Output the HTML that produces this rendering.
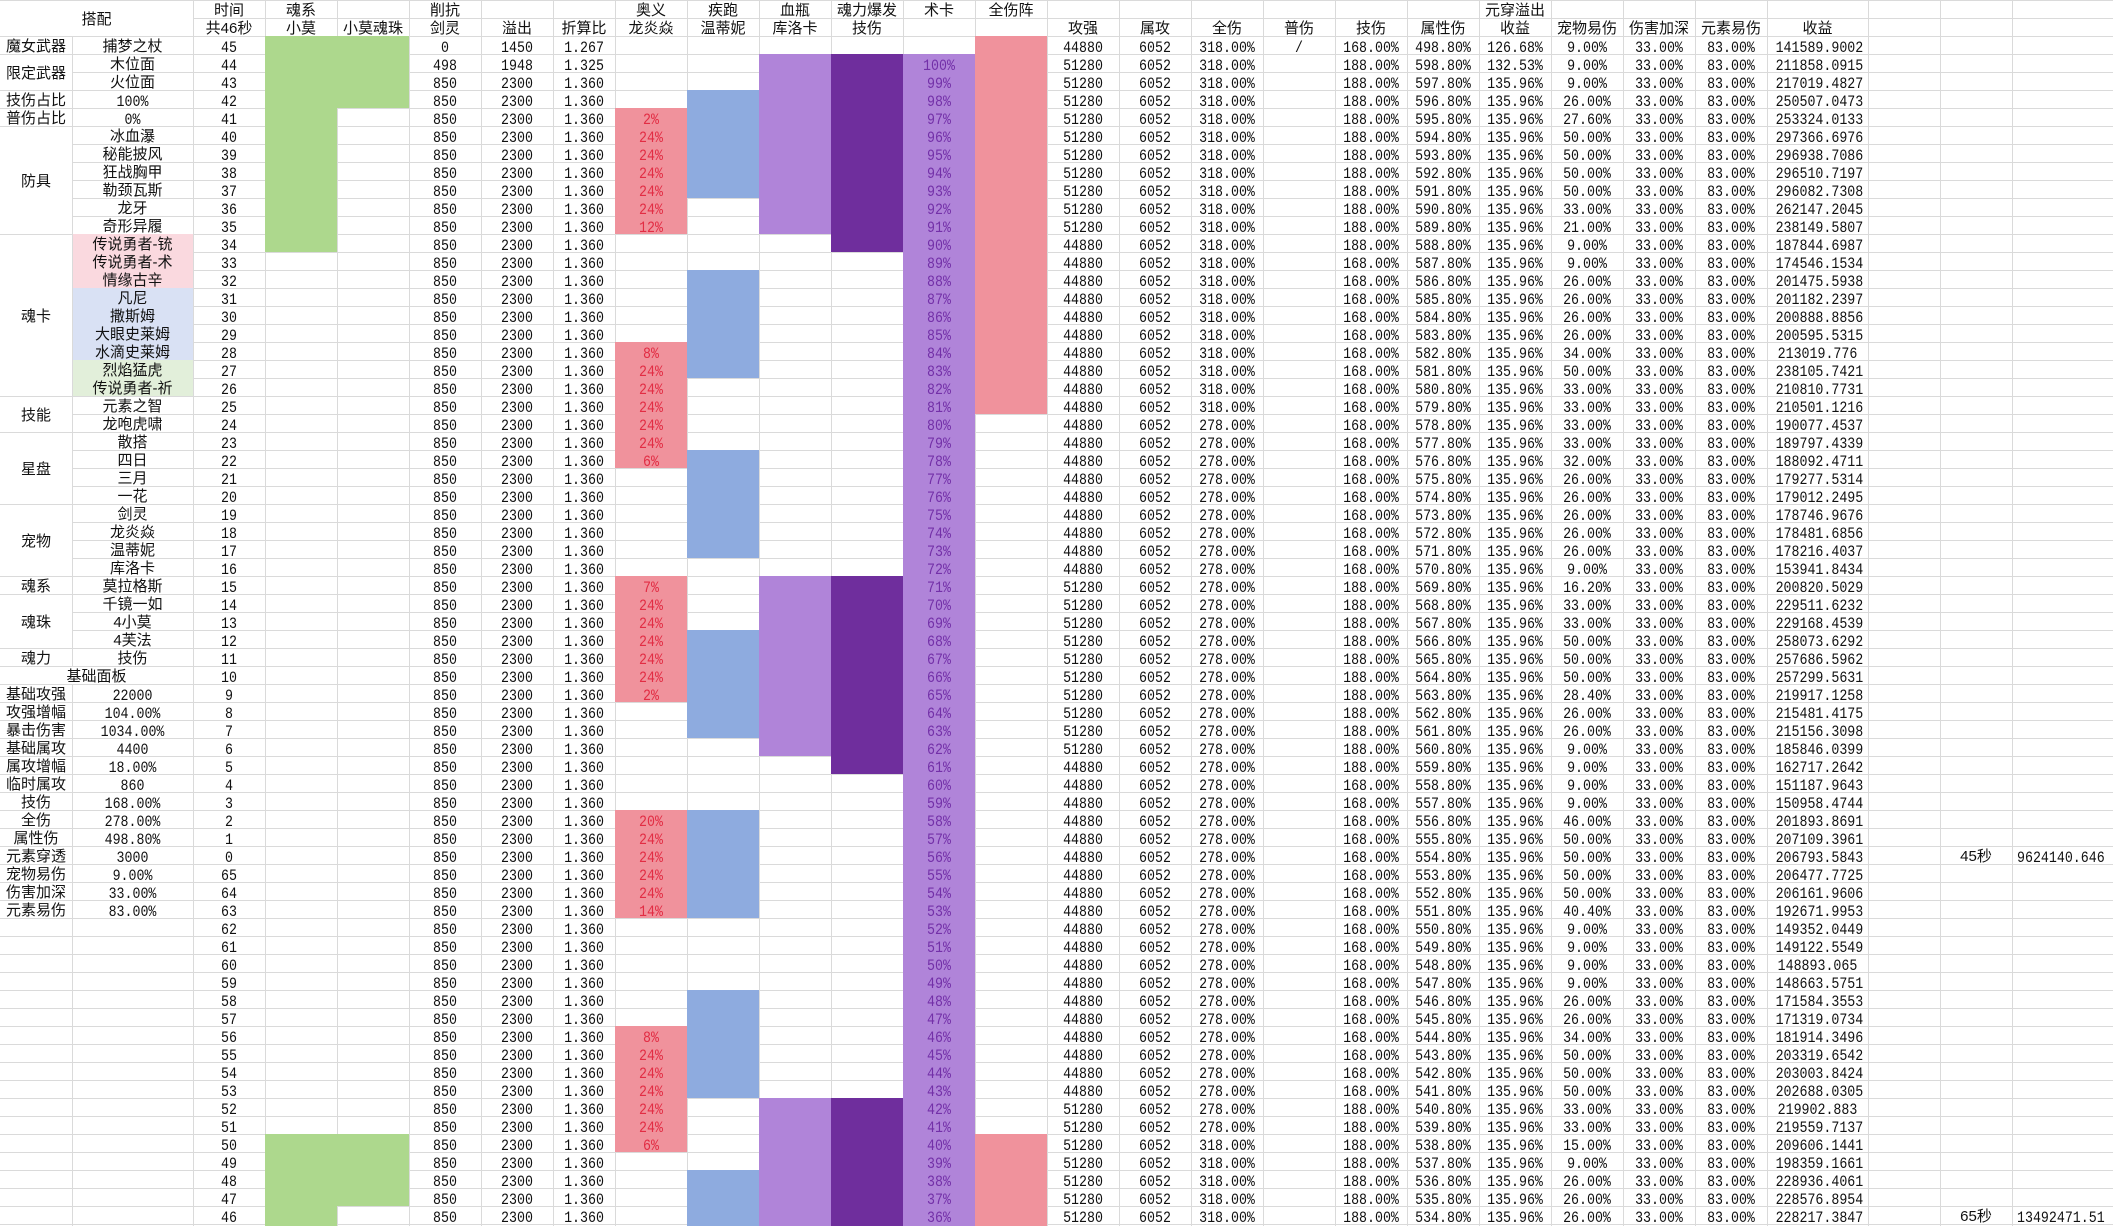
<!DOCTYPE html>
<html><head><meta charset="utf-8">
<style>
body{margin:0;width:2113px;height:1226px;overflow:hidden;background:#fff;position:relative;color:#111}
.g{position:absolute;left:0;top:0;width:2113px;height:1226px;background:repeating-linear-gradient(to bottom,#dadada 0,#dadada 1px,transparent 1px,transparent 18px)}
svg{position:absolute;left:0;top:0}
.b{position:absolute}
.gr{background:#add88d}.rd{background:#f0929c}.bl{background:#8eabdf}.lp{background:#b084d9}.dp{background:#6f2e9d}
.pk{background:#fad9df}.lb{background:#d9e1f4}.lg{background:#e2efda}.wh{background:#fff}
.r{position:absolute;left:0;width:2113px;height:18px}
.r i{position:absolute;top:3px;height:18px;font:16px/18px "Liberation Mono",monospace;text-align:center;font-style:normal;white-space:nowrap;transform:scaleX(.83)}
.r i.z{font:15px/18px "Liberation Sans","Noto Sans CJK SC",sans-serif;transform:none;top:2px}
.r i.w{left:2017px;text-align:left;transform-origin:0 50%}
.p{color:#e22d44}.q{color:#7330a8}
.c0{left:0;width:72px}.c1{left:72px;width:121px}.c2{left:193px;width:72px}.c3{left:265px;width:72px}.c4{left:337px;width:72px}
.c5{left:409px;width:72px}.c6{left:481px;width:72px}.c7{left:553px;width:62px}.c8{left:615px;width:72px}.c9{left:687px;width:72px}
.c10{left:759px;width:72px}.c11{left:831px;width:72px}.c12{left:903px;width:72px}.c13{left:975px;width:72px}.c14{left:1047px;width:72px}
.c15{left:1119px;width:72px}.c16{left:1191px;width:72px}.c17{left:1263px;width:72px}.c18{left:1335px;width:72px}.c19{left:1407px;width:72px}
.c20{left:1479px;width:72px}.c21{left:1551px;width:72px}.c22{left:1623px;width:72px}.c23{left:1695px;width:72px}.c24{left:1767px;width:101px}
.c25{left:1868px;width:72px}.c26{left:1940px;width:72px}.c27{left:2012px;width:101px}
</style></head><body>
<div class="g"></div>
<svg width="2113" height="1226"><path d="M72.5 0V1226M193.5 0V1226M265.5 0V1226M337.5 0V1226M409.5 0V1226M481.5 0V1226M553.5 0V1226M615.5 0V1226M687.5 0V1226M759.5 0V1226M831.5 0V1226M903.5 0V1226M975.5 0V1226M1047.5 0V1226M1119.5 0V1226M1191.5 0V1226M1263.5 0V1226M1335.5 0V1226M1407.5 0V1226M1479.5 0V1226M1551.5 0V1226M1623.5 0V1226M1695.5 0V1226M1767.5 0V1226M1868.5 0V1226M1940.5 0V1226M2012.5 0V1226" stroke="#dadada" stroke-width="1" fill="none"/></svg>

<!-- merged white cells -->
<div class="b wh" style="left:0;top:1px;width:193px;height:35px"></div>
<div class="b wh" style="left:0;top:55px;width:72px;height:35px"></div>
<div class="b wh" style="left:0;top:127px;width:72px;height:107px"></div>
<div class="b wh" style="left:0;top:235px;width:72px;height:161px"></div>
<div class="b wh" style="left:0;top:397px;width:72px;height:35px"></div>
<div class="b wh" style="left:0;top:433px;width:72px;height:71px"></div>
<div class="b wh" style="left:0;top:505px;width:72px;height:71px"></div>
<div class="b wh" style="left:0;top:595px;width:72px;height:53px"></div>
<div class="b wh" style="left:0;top:667px;width:193px;height:17px"></div>

<!-- colored blocks -->
<div class="b pk" style="left:73px;top:234px;width:120px;height:54px"></div>
<div class="b lb" style="left:73px;top:288px;width:120px;height:72px"></div>
<div class="b lg" style="left:73px;top:360px;width:120px;height:36px"></div>

<div class="b gr" style="left:265px;top:36px;width:72px;height:216px"></div>
<div class="b gr" style="left:265px;top:1134px;width:72px;height:92px"></div>
<div class="b gr" style="left:337px;top:36px;width:72px;height:72px"></div>
<div class="b gr" style="left:337px;top:1134px;width:72px;height:72px"></div>

<div class="b rd" style="left:615px;top:108px;width:72px;height:126px"></div>
<div class="b rd" style="left:615px;top:342px;width:72px;height:126px"></div>
<div class="b rd" style="left:615px;top:576px;width:72px;height:126px"></div>
<div class="b rd" style="left:615px;top:810px;width:72px;height:108px"></div>
<div class="b rd" style="left:615px;top:1026px;width:72px;height:126px"></div>

<div class="b bl" style="left:687px;top:90px;width:72px;height:108px"></div>
<div class="b bl" style="left:687px;top:270px;width:72px;height:108px"></div>
<div class="b bl" style="left:687px;top:450px;width:72px;height:108px"></div>
<div class="b bl" style="left:687px;top:630px;width:72px;height:108px"></div>
<div class="b bl" style="left:687px;top:810px;width:72px;height:108px"></div>
<div class="b bl" style="left:687px;top:990px;width:72px;height:108px"></div>
<div class="b bl" style="left:687px;top:1170px;width:72px;height:56px"></div>

<div class="b lp" style="left:759px;top:54px;width:72px;height:180px"></div>
<div class="b lp" style="left:759px;top:576px;width:72px;height:180px"></div>
<div class="b lp" style="left:759px;top:1098px;width:72px;height:128px"></div>

<div class="b dp" style="left:831px;top:54px;width:72px;height:198px"></div>
<div class="b dp" style="left:831px;top:576px;width:72px;height:198px"></div>
<div class="b dp" style="left:831px;top:1098px;width:72px;height:128px"></div>

<div class="b lp" style="left:903px;top:54px;width:72px;height:1172px"></div>

<div class="b rd" style="left:975px;top:36px;width:72px;height:378px"></div>
<div class="b rd" style="left:975px;top:1134px;width:72px;height:92px"></div>

<!-- header -->
<div class="r" style="top:0">
<i class="z" style="left:0;width:193px;top:11px">搭配</i>
<i class="c2 z">时间</i><i class="c3 z">魂系</i><i class="c5 z">削抗</i><i class="c8 z">奥义</i><i class="c9 z">疾跑</i><i class="c10 z">血瓶</i><i class="c11 z">魂力爆发</i><i class="c12 z">术卡</i><i class="c13 z">全伤阵</i><i class="c20 z">元穿溢出</i>
</div>
<div class="r" style="top:18px">
<i class="c2 z">共46秒</i><i class="c3 z">小莫</i><i class="c4 z">小莫魂珠</i><i class="c5 z">剑灵</i><i class="c6 z">溢出</i><i class="c7 z">折算比</i><i class="c8 z">龙炎焱</i><i class="c9 z">温蒂妮</i><i class="c10 z">库洛卡</i><i class="c11 z">技伤</i><i class="c14 z">攻强</i><i class="c15 z">属攻</i><i class="c16 z">全伤</i><i class="c17 z">普伤</i><i class="c18 z">技伤</i><i class="c19 z">属性伤</i><i class="c20 z">收益</i><i class="c21 z">宠物易伤</i><i class="c22 z">伤害加深</i><i class="c23 z">元素易伤</i><i class="c24 z">收益</i>
</div>

<!-- merged labels -->
<div class="r" style="top:0">
<i class="c0 z" style="top:65px">限定武器</i>
<i class="c0 z" style="top:173px">防具</i>
<i class="c0 z" style="top:308px">魂卡</i>
<i class="c0 z" style="top:407px">技能</i>
<i class="c0 z" style="top:461px">星盘</i>
<i class="c0 z" style="top:533px">宠物</i>
<i class="c0 z" style="top:614px">魂珠</i>
<i class="z" style="left:0;width:193px;top:668px">基础面板</i>
</div>

<!-- data rows -->
<div class="r" style="top:36px"><i class="c0 z">魔女武器</i><i class="c1 z">捕梦之杖</i><i class="c2">45</i><i class="c5">0</i><i class="c6">1450</i><i class="c7">1.267</i><i class="c14">44880</i><i class="c15">6052</i><i class="c16">318.00%</i><i class="c17">/</i><i class="c18">168.00%</i><i class="c19">498.80%</i><i class="c20">126.68%</i><i class="c21">9.00%</i><i class="c22">33.00%</i><i class="c23">83.00%</i><i class="c24">141589.9002</i></div>
<div class="r" style="top:54px"><i class="c1 z">木位面</i><i class="c2">44</i><i class="c5">498</i><i class="c6">1948</i><i class="c7">1.325</i><i class="c12 q">100%</i><i class="c14">51280</i><i class="c15">6052</i><i class="c16">318.00%</i><i class="c18">188.00%</i><i class="c19">598.80%</i><i class="c20">132.53%</i><i class="c21">9.00%</i><i class="c22">33.00%</i><i class="c23">83.00%</i><i class="c24">211858.0915</i></div>
<div class="r" style="top:72px"><i class="c1 z">火位面</i><i class="c2">43</i><i class="c5">850</i><i class="c6">2300</i><i class="c7">1.360</i><i class="c12 q">99%</i><i class="c14">51280</i><i class="c15">6052</i><i class="c16">318.00%</i><i class="c18">188.00%</i><i class="c19">597.80%</i><i class="c20">135.96%</i><i class="c21">9.00%</i><i class="c22">33.00%</i><i class="c23">83.00%</i><i class="c24">217019.4827</i></div>
<div class="r" style="top:90px"><i class="c0 z">技伤占比</i><i class="c1">100%</i><i class="c2">42</i><i class="c5">850</i><i class="c6">2300</i><i class="c7">1.360</i><i class="c12 q">98%</i><i class="c14">51280</i><i class="c15">6052</i><i class="c16">318.00%</i><i class="c18">188.00%</i><i class="c19">596.80%</i><i class="c20">135.96%</i><i class="c21">26.00%</i><i class="c22">33.00%</i><i class="c23">83.00%</i><i class="c24">250507.0473</i></div>
<div class="r" style="top:108px"><i class="c0 z">普伤占比</i><i class="c1">0%</i><i class="c2">41</i><i class="c5">850</i><i class="c6">2300</i><i class="c7">1.360</i><i class="c8 p">2%</i><i class="c12 q">97%</i><i class="c14">51280</i><i class="c15">6052</i><i class="c16">318.00%</i><i class="c18">188.00%</i><i class="c19">595.80%</i><i class="c20">135.96%</i><i class="c21">27.60%</i><i class="c22">33.00%</i><i class="c23">83.00%</i><i class="c24">253324.0133</i></div>
<div class="r" style="top:126px"><i class="c1 z">冰血瀑</i><i class="c2">40</i><i class="c5">850</i><i class="c6">2300</i><i class="c7">1.360</i><i class="c8 p">24%</i><i class="c12 q">96%</i><i class="c14">51280</i><i class="c15">6052</i><i class="c16">318.00%</i><i class="c18">188.00%</i><i class="c19">594.80%</i><i class="c20">135.96%</i><i class="c21">50.00%</i><i class="c22">33.00%</i><i class="c23">83.00%</i><i class="c24">297366.6976</i></div>
<div class="r" style="top:144px"><i class="c1 z">秘能披风</i><i class="c2">39</i><i class="c5">850</i><i class="c6">2300</i><i class="c7">1.360</i><i class="c8 p">24%</i><i class="c12 q">95%</i><i class="c14">51280</i><i class="c15">6052</i><i class="c16">318.00%</i><i class="c18">188.00%</i><i class="c19">593.80%</i><i class="c20">135.96%</i><i class="c21">50.00%</i><i class="c22">33.00%</i><i class="c23">83.00%</i><i class="c24">296938.7086</i></div>
<div class="r" style="top:162px"><i class="c1 z">狂战胸甲</i><i class="c2">38</i><i class="c5">850</i><i class="c6">2300</i><i class="c7">1.360</i><i class="c8 p">24%</i><i class="c12 q">94%</i><i class="c14">51280</i><i class="c15">6052</i><i class="c16">318.00%</i><i class="c18">188.00%</i><i class="c19">592.80%</i><i class="c20">135.96%</i><i class="c21">50.00%</i><i class="c22">33.00%</i><i class="c23">83.00%</i><i class="c24">296510.7197</i></div>
<div class="r" style="top:180px"><i class="c1 z">勒颈瓦斯</i><i class="c2">37</i><i class="c5">850</i><i class="c6">2300</i><i class="c7">1.360</i><i class="c8 p">24%</i><i class="c12 q">93%</i><i class="c14">51280</i><i class="c15">6052</i><i class="c16">318.00%</i><i class="c18">188.00%</i><i class="c19">591.80%</i><i class="c20">135.96%</i><i class="c21">50.00%</i><i class="c22">33.00%</i><i class="c23">83.00%</i><i class="c24">296082.7308</i></div>
<div class="r" style="top:198px"><i class="c1 z">龙牙</i><i class="c2">36</i><i class="c5">850</i><i class="c6">2300</i><i class="c7">1.360</i><i class="c8 p">24%</i><i class="c12 q">92%</i><i class="c14">51280</i><i class="c15">6052</i><i class="c16">318.00%</i><i class="c18">188.00%</i><i class="c19">590.80%</i><i class="c20">135.96%</i><i class="c21">33.00%</i><i class="c22">33.00%</i><i class="c23">83.00%</i><i class="c24">262147.2045</i></div>
<div class="r" style="top:216px"><i class="c1 z">奇形异履</i><i class="c2">35</i><i class="c5">850</i><i class="c6">2300</i><i class="c7">1.360</i><i class="c8 p">12%</i><i class="c12 q">91%</i><i class="c14">51280</i><i class="c15">6052</i><i class="c16">318.00%</i><i class="c18">188.00%</i><i class="c19">589.80%</i><i class="c20">135.96%</i><i class="c21">21.00%</i><i class="c22">33.00%</i><i class="c23">83.00%</i><i class="c24">238149.5807</i></div>
<div class="r" style="top:234px"><i class="c1 z">传说勇者-铳</i><i class="c2">34</i><i class="c5">850</i><i class="c6">2300</i><i class="c7">1.360</i><i class="c12 q">90%</i><i class="c14">44880</i><i class="c15">6052</i><i class="c16">318.00%</i><i class="c18">188.00%</i><i class="c19">588.80%</i><i class="c20">135.96%</i><i class="c21">9.00%</i><i class="c22">33.00%</i><i class="c23">83.00%</i><i class="c24">187844.6987</i></div>
<div class="r" style="top:252px"><i class="c1 z">传说勇者-术</i><i class="c2">33</i><i class="c5">850</i><i class="c6">2300</i><i class="c7">1.360</i><i class="c12 q">89%</i><i class="c14">44880</i><i class="c15">6052</i><i class="c16">318.00%</i><i class="c18">168.00%</i><i class="c19">587.80%</i><i class="c20">135.96%</i><i class="c21">9.00%</i><i class="c22">33.00%</i><i class="c23">83.00%</i><i class="c24">174546.1534</i></div>
<div class="r" style="top:270px"><i class="c1 z">情缘古辛</i><i class="c2">32</i><i class="c5">850</i><i class="c6">2300</i><i class="c7">1.360</i><i class="c12 q">88%</i><i class="c14">44880</i><i class="c15">6052</i><i class="c16">318.00%</i><i class="c18">168.00%</i><i class="c19">586.80%</i><i class="c20">135.96%</i><i class="c21">26.00%</i><i class="c22">33.00%</i><i class="c23">83.00%</i><i class="c24">201475.5938</i></div>
<div class="r" style="top:288px"><i class="c1 z">凡尼</i><i class="c2">31</i><i class="c5">850</i><i class="c6">2300</i><i class="c7">1.360</i><i class="c12 q">87%</i><i class="c14">44880</i><i class="c15">6052</i><i class="c16">318.00%</i><i class="c18">168.00%</i><i class="c19">585.80%</i><i class="c20">135.96%</i><i class="c21">26.00%</i><i class="c22">33.00%</i><i class="c23">83.00%</i><i class="c24">201182.2397</i></div>
<div class="r" style="top:306px"><i class="c1 z">撒斯姆</i><i class="c2">30</i><i class="c5">850</i><i class="c6">2300</i><i class="c7">1.360</i><i class="c12 q">86%</i><i class="c14">44880</i><i class="c15">6052</i><i class="c16">318.00%</i><i class="c18">168.00%</i><i class="c19">584.80%</i><i class="c20">135.96%</i><i class="c21">26.00%</i><i class="c22">33.00%</i><i class="c23">83.00%</i><i class="c24">200888.8856</i></div>
<div class="r" style="top:324px"><i class="c1 z">大眼史莱姆</i><i class="c2">29</i><i class="c5">850</i><i class="c6">2300</i><i class="c7">1.360</i><i class="c12 q">85%</i><i class="c14">44880</i><i class="c15">6052</i><i class="c16">318.00%</i><i class="c18">168.00%</i><i class="c19">583.80%</i><i class="c20">135.96%</i><i class="c21">26.00%</i><i class="c22">33.00%</i><i class="c23">83.00%</i><i class="c24">200595.5315</i></div>
<div class="r" style="top:342px"><i class="c1 z">水滴史莱姆</i><i class="c2">28</i><i class="c5">850</i><i class="c6">2300</i><i class="c7">1.360</i><i class="c8 p">8%</i><i class="c12 q">84%</i><i class="c14">44880</i><i class="c15">6052</i><i class="c16">318.00%</i><i class="c18">168.00%</i><i class="c19">582.80%</i><i class="c20">135.96%</i><i class="c21">34.00%</i><i class="c22">33.00%</i><i class="c23">83.00%</i><i class="c24">213019.776</i></div>
<div class="r" style="top:360px"><i class="c1 z">烈焰猛虎</i><i class="c2">27</i><i class="c5">850</i><i class="c6">2300</i><i class="c7">1.360</i><i class="c8 p">24%</i><i class="c12 q">83%</i><i class="c14">44880</i><i class="c15">6052</i><i class="c16">318.00%</i><i class="c18">168.00%</i><i class="c19">581.80%</i><i class="c20">135.96%</i><i class="c21">50.00%</i><i class="c22">33.00%</i><i class="c23">83.00%</i><i class="c24">238105.7421</i></div>
<div class="r" style="top:378px"><i class="c1 z">传说勇者-祈</i><i class="c2">26</i><i class="c5">850</i><i class="c6">2300</i><i class="c7">1.360</i><i class="c8 p">24%</i><i class="c12 q">82%</i><i class="c14">44880</i><i class="c15">6052</i><i class="c16">318.00%</i><i class="c18">168.00%</i><i class="c19">580.80%</i><i class="c20">135.96%</i><i class="c21">33.00%</i><i class="c22">33.00%</i><i class="c23">83.00%</i><i class="c24">210810.7731</i></div>
<div class="r" style="top:396px"><i class="c1 z">元素之智</i><i class="c2">25</i><i class="c5">850</i><i class="c6">2300</i><i class="c7">1.360</i><i class="c8 p">24%</i><i class="c12 q">81%</i><i class="c14">44880</i><i class="c15">6052</i><i class="c16">318.00%</i><i class="c18">168.00%</i><i class="c19">579.80%</i><i class="c20">135.96%</i><i class="c21">33.00%</i><i class="c22">33.00%</i><i class="c23">83.00%</i><i class="c24">210501.1216</i></div>
<div class="r" style="top:414px"><i class="c1 z">龙咆虎啸</i><i class="c2">24</i><i class="c5">850</i><i class="c6">2300</i><i class="c7">1.360</i><i class="c8 p">24%</i><i class="c12 q">80%</i><i class="c14">44880</i><i class="c15">6052</i><i class="c16">278.00%</i><i class="c18">168.00%</i><i class="c19">578.80%</i><i class="c20">135.96%</i><i class="c21">33.00%</i><i class="c22">33.00%</i><i class="c23">83.00%</i><i class="c24">190077.4537</i></div>
<div class="r" style="top:432px"><i class="c1 z">散搭</i><i class="c2">23</i><i class="c5">850</i><i class="c6">2300</i><i class="c7">1.360</i><i class="c8 p">24%</i><i class="c12 q">79%</i><i class="c14">44880</i><i class="c15">6052</i><i class="c16">278.00%</i><i class="c18">168.00%</i><i class="c19">577.80%</i><i class="c20">135.96%</i><i class="c21">33.00%</i><i class="c22">33.00%</i><i class="c23">83.00%</i><i class="c24">189797.4339</i></div>
<div class="r" style="top:450px"><i class="c1 z">四日</i><i class="c2">22</i><i class="c5">850</i><i class="c6">2300</i><i class="c7">1.360</i><i class="c8 p">6%</i><i class="c12 q">78%</i><i class="c14">44880</i><i class="c15">6052</i><i class="c16">278.00%</i><i class="c18">168.00%</i><i class="c19">576.80%</i><i class="c20">135.96%</i><i class="c21">32.00%</i><i class="c22">33.00%</i><i class="c23">83.00%</i><i class="c24">188092.4711</i></div>
<div class="r" style="top:468px"><i class="c1 z">三月</i><i class="c2">21</i><i class="c5">850</i><i class="c6">2300</i><i class="c7">1.360</i><i class="c12 q">77%</i><i class="c14">44880</i><i class="c15">6052</i><i class="c16">278.00%</i><i class="c18">168.00%</i><i class="c19">575.80%</i><i class="c20">135.96%</i><i class="c21">26.00%</i><i class="c22">33.00%</i><i class="c23">83.00%</i><i class="c24">179277.5314</i></div>
<div class="r" style="top:486px"><i class="c1 z">一花</i><i class="c2">20</i><i class="c5">850</i><i class="c6">2300</i><i class="c7">1.360</i><i class="c12 q">76%</i><i class="c14">44880</i><i class="c15">6052</i><i class="c16">278.00%</i><i class="c18">168.00%</i><i class="c19">574.80%</i><i class="c20">135.96%</i><i class="c21">26.00%</i><i class="c22">33.00%</i><i class="c23">83.00%</i><i class="c24">179012.2495</i></div>
<div class="r" style="top:504px"><i class="c1 z">剑灵</i><i class="c2">19</i><i class="c5">850</i><i class="c6">2300</i><i class="c7">1.360</i><i class="c12 q">75%</i><i class="c14">44880</i><i class="c15">6052</i><i class="c16">278.00%</i><i class="c18">168.00%</i><i class="c19">573.80%</i><i class="c20">135.96%</i><i class="c21">26.00%</i><i class="c22">33.00%</i><i class="c23">83.00%</i><i class="c24">178746.9676</i></div>
<div class="r" style="top:522px"><i class="c1 z">龙炎焱</i><i class="c2">18</i><i class="c5">850</i><i class="c6">2300</i><i class="c7">1.360</i><i class="c12 q">74%</i><i class="c14">44880</i><i class="c15">6052</i><i class="c16">278.00%</i><i class="c18">168.00%</i><i class="c19">572.80%</i><i class="c20">135.96%</i><i class="c21">26.00%</i><i class="c22">33.00%</i><i class="c23">83.00%</i><i class="c24">178481.6856</i></div>
<div class="r" style="top:540px"><i class="c1 z">温蒂妮</i><i class="c2">17</i><i class="c5">850</i><i class="c6">2300</i><i class="c7">1.360</i><i class="c12 q">73%</i><i class="c14">44880</i><i class="c15">6052</i><i class="c16">278.00%</i><i class="c18">168.00%</i><i class="c19">571.80%</i><i class="c20">135.96%</i><i class="c21">26.00%</i><i class="c22">33.00%</i><i class="c23">83.00%</i><i class="c24">178216.4037</i></div>
<div class="r" style="top:558px"><i class="c1 z">库洛卡</i><i class="c2">16</i><i class="c5">850</i><i class="c6">2300</i><i class="c7">1.360</i><i class="c12 q">72%</i><i class="c14">44880</i><i class="c15">6052</i><i class="c16">278.00%</i><i class="c18">168.00%</i><i class="c19">570.80%</i><i class="c20">135.96%</i><i class="c21">9.00%</i><i class="c22">33.00%</i><i class="c23">83.00%</i><i class="c24">153941.8434</i></div>
<div class="r" style="top:576px"><i class="c0 z">魂系</i><i class="c1 z">莫拉格斯</i><i class="c2">15</i><i class="c5">850</i><i class="c6">2300</i><i class="c7">1.360</i><i class="c8 p">7%</i><i class="c12 q">71%</i><i class="c14">51280</i><i class="c15">6052</i><i class="c16">278.00%</i><i class="c18">188.00%</i><i class="c19">569.80%</i><i class="c20">135.96%</i><i class="c21">16.20%</i><i class="c22">33.00%</i><i class="c23">83.00%</i><i class="c24">200820.5029</i></div>
<div class="r" style="top:594px"><i class="c1 z">千镜一如</i><i class="c2">14</i><i class="c5">850</i><i class="c6">2300</i><i class="c7">1.360</i><i class="c8 p">24%</i><i class="c12 q">70%</i><i class="c14">51280</i><i class="c15">6052</i><i class="c16">278.00%</i><i class="c18">188.00%</i><i class="c19">568.80%</i><i class="c20">135.96%</i><i class="c21">33.00%</i><i class="c22">33.00%</i><i class="c23">83.00%</i><i class="c24">229511.6232</i></div>
<div class="r" style="top:612px"><i class="c1 z">4小莫</i><i class="c2">13</i><i class="c5">850</i><i class="c6">2300</i><i class="c7">1.360</i><i class="c8 p">24%</i><i class="c12 q">69%</i><i class="c14">51280</i><i class="c15">6052</i><i class="c16">278.00%</i><i class="c18">188.00%</i><i class="c19">567.80%</i><i class="c20">135.96%</i><i class="c21">33.00%</i><i class="c22">33.00%</i><i class="c23">83.00%</i><i class="c24">229168.4539</i></div>
<div class="r" style="top:630px"><i class="c1 z">4芙法</i><i class="c2">12</i><i class="c5">850</i><i class="c6">2300</i><i class="c7">1.360</i><i class="c8 p">24%</i><i class="c12 q">68%</i><i class="c14">51280</i><i class="c15">6052</i><i class="c16">278.00%</i><i class="c18">188.00%</i><i class="c19">566.80%</i><i class="c20">135.96%</i><i class="c21">50.00%</i><i class="c22">33.00%</i><i class="c23">83.00%</i><i class="c24">258073.6292</i></div>
<div class="r" style="top:648px"><i class="c0 z">魂力</i><i class="c1 z">技伤</i><i class="c2">11</i><i class="c5">850</i><i class="c6">2300</i><i class="c7">1.360</i><i class="c8 p">24%</i><i class="c12 q">67%</i><i class="c14">51280</i><i class="c15">6052</i><i class="c16">278.00%</i><i class="c18">188.00%</i><i class="c19">565.80%</i><i class="c20">135.96%</i><i class="c21">50.00%</i><i class="c22">33.00%</i><i class="c23">83.00%</i><i class="c24">257686.5962</i></div>
<div class="r" style="top:666px"><i class="c2">10</i><i class="c5">850</i><i class="c6">2300</i><i class="c7">1.360</i><i class="c8 p">24%</i><i class="c12 q">66%</i><i class="c14">51280</i><i class="c15">6052</i><i class="c16">278.00%</i><i class="c18">188.00%</i><i class="c19">564.80%</i><i class="c20">135.96%</i><i class="c21">50.00%</i><i class="c22">33.00%</i><i class="c23">83.00%</i><i class="c24">257299.5631</i></div>
<div class="r" style="top:684px"><i class="c0 z">基础攻强</i><i class="c1">22000</i><i class="c2">9</i><i class="c5">850</i><i class="c6">2300</i><i class="c7">1.360</i><i class="c8 p">2%</i><i class="c12 q">65%</i><i class="c14">51280</i><i class="c15">6052</i><i class="c16">278.00%</i><i class="c18">188.00%</i><i class="c19">563.80%</i><i class="c20">135.96%</i><i class="c21">28.40%</i><i class="c22">33.00%</i><i class="c23">83.00%</i><i class="c24">219917.1258</i></div>
<div class="r" style="top:702px"><i class="c0 z">攻强增幅</i><i class="c1">104.00%</i><i class="c2">8</i><i class="c5">850</i><i class="c6">2300</i><i class="c7">1.360</i><i class="c12 q">64%</i><i class="c14">51280</i><i class="c15">6052</i><i class="c16">278.00%</i><i class="c18">188.00%</i><i class="c19">562.80%</i><i class="c20">135.96%</i><i class="c21">26.00%</i><i class="c22">33.00%</i><i class="c23">83.00%</i><i class="c24">215481.4175</i></div>
<div class="r" style="top:720px"><i class="c0 z">暴击伤害</i><i class="c1">1034.00%</i><i class="c2">7</i><i class="c5">850</i><i class="c6">2300</i><i class="c7">1.360</i><i class="c12 q">63%</i><i class="c14">51280</i><i class="c15">6052</i><i class="c16">278.00%</i><i class="c18">188.00%</i><i class="c19">561.80%</i><i class="c20">135.96%</i><i class="c21">26.00%</i><i class="c22">33.00%</i><i class="c23">83.00%</i><i class="c24">215156.3098</i></div>
<div class="r" style="top:738px"><i class="c0 z">基础属攻</i><i class="c1">4400</i><i class="c2">6</i><i class="c5">850</i><i class="c6">2300</i><i class="c7">1.360</i><i class="c12 q">62%</i><i class="c14">51280</i><i class="c15">6052</i><i class="c16">278.00%</i><i class="c18">188.00%</i><i class="c19">560.80%</i><i class="c20">135.96%</i><i class="c21">9.00%</i><i class="c22">33.00%</i><i class="c23">83.00%</i><i class="c24">185846.0399</i></div>
<div class="r" style="top:756px"><i class="c0 z">属攻增幅</i><i class="c1">18.00%</i><i class="c2">5</i><i class="c5">850</i><i class="c6">2300</i><i class="c7">1.360</i><i class="c12 q">61%</i><i class="c14">44880</i><i class="c15">6052</i><i class="c16">278.00%</i><i class="c18">188.00%</i><i class="c19">559.80%</i><i class="c20">135.96%</i><i class="c21">9.00%</i><i class="c22">33.00%</i><i class="c23">83.00%</i><i class="c24">162717.2642</i></div>
<div class="r" style="top:774px"><i class="c0 z">临时属攻</i><i class="c1">860</i><i class="c2">4</i><i class="c5">850</i><i class="c6">2300</i><i class="c7">1.360</i><i class="c12 q">60%</i><i class="c14">44880</i><i class="c15">6052</i><i class="c16">278.00%</i><i class="c18">168.00%</i><i class="c19">558.80%</i><i class="c20">135.96%</i><i class="c21">9.00%</i><i class="c22">33.00%</i><i class="c23">83.00%</i><i class="c24">151187.9643</i></div>
<div class="r" style="top:792px"><i class="c0 z">技伤</i><i class="c1">168.00%</i><i class="c2">3</i><i class="c5">850</i><i class="c6">2300</i><i class="c7">1.360</i><i class="c12 q">59%</i><i class="c14">44880</i><i class="c15">6052</i><i class="c16">278.00%</i><i class="c18">168.00%</i><i class="c19">557.80%</i><i class="c20">135.96%</i><i class="c21">9.00%</i><i class="c22">33.00%</i><i class="c23">83.00%</i><i class="c24">150958.4744</i></div>
<div class="r" style="top:810px"><i class="c0 z">全伤</i><i class="c1">278.00%</i><i class="c2">2</i><i class="c5">850</i><i class="c6">2300</i><i class="c7">1.360</i><i class="c8 p">20%</i><i class="c12 q">58%</i><i class="c14">44880</i><i class="c15">6052</i><i class="c16">278.00%</i><i class="c18">168.00%</i><i class="c19">556.80%</i><i class="c20">135.96%</i><i class="c21">46.00%</i><i class="c22">33.00%</i><i class="c23">83.00%</i><i class="c24">201893.8691</i></div>
<div class="r" style="top:828px"><i class="c0 z">属性伤</i><i class="c1">498.80%</i><i class="c2">1</i><i class="c5">850</i><i class="c6">2300</i><i class="c7">1.360</i><i class="c8 p">24%</i><i class="c12 q">57%</i><i class="c14">44880</i><i class="c15">6052</i><i class="c16">278.00%</i><i class="c18">168.00%</i><i class="c19">555.80%</i><i class="c20">135.96%</i><i class="c21">50.00%</i><i class="c22">33.00%</i><i class="c23">83.00%</i><i class="c24">207109.3961</i></div>
<div class="r" style="top:846px"><i class="c0 z">元素穿透</i><i class="c1">3000</i><i class="c2">0</i><i class="c5">850</i><i class="c6">2300</i><i class="c7">1.360</i><i class="c8 p">24%</i><i class="c12 q">56%</i><i class="c14">44880</i><i class="c15">6052</i><i class="c16">278.00%</i><i class="c18">168.00%</i><i class="c19">554.80%</i><i class="c20">135.96%</i><i class="c21">50.00%</i><i class="c22">33.00%</i><i class="c23">83.00%</i><i class="c24">206793.5843</i><i class="c26 z">45秒</i><i class="w">9624140.646</i></div>
<div class="r" style="top:864px"><i class="c0 z">宠物易伤</i><i class="c1">9.00%</i><i class="c2">65</i><i class="c5">850</i><i class="c6">2300</i><i class="c7">1.360</i><i class="c8 p">24%</i><i class="c12 q">55%</i><i class="c14">44880</i><i class="c15">6052</i><i class="c16">278.00%</i><i class="c18">168.00%</i><i class="c19">553.80%</i><i class="c20">135.96%</i><i class="c21">50.00%</i><i class="c22">33.00%</i><i class="c23">83.00%</i><i class="c24">206477.7725</i></div>
<div class="r" style="top:882px"><i class="c0 z">伤害加深</i><i class="c1">33.00%</i><i class="c2">64</i><i class="c5">850</i><i class="c6">2300</i><i class="c7">1.360</i><i class="c8 p">24%</i><i class="c12 q">54%</i><i class="c14">44880</i><i class="c15">6052</i><i class="c16">278.00%</i><i class="c18">168.00%</i><i class="c19">552.80%</i><i class="c20">135.96%</i><i class="c21">50.00%</i><i class="c22">33.00%</i><i class="c23">83.00%</i><i class="c24">206161.9606</i></div>
<div class="r" style="top:900px"><i class="c0 z">元素易伤</i><i class="c1">83.00%</i><i class="c2">63</i><i class="c5">850</i><i class="c6">2300</i><i class="c7">1.360</i><i class="c8 p">14%</i><i class="c12 q">53%</i><i class="c14">44880</i><i class="c15">6052</i><i class="c16">278.00%</i><i class="c18">168.00%</i><i class="c19">551.80%</i><i class="c20">135.96%</i><i class="c21">40.40%</i><i class="c22">33.00%</i><i class="c23">83.00%</i><i class="c24">192671.9953</i></div>
<div class="r" style="top:918px"><i class="c2">62</i><i class="c5">850</i><i class="c6">2300</i><i class="c7">1.360</i><i class="c12 q">52%</i><i class="c14">44880</i><i class="c15">6052</i><i class="c16">278.00%</i><i class="c18">168.00%</i><i class="c19">550.80%</i><i class="c20">135.96%</i><i class="c21">9.00%</i><i class="c22">33.00%</i><i class="c23">83.00%</i><i class="c24">149352.0449</i></div>
<div class="r" style="top:936px"><i class="c2">61</i><i class="c5">850</i><i class="c6">2300</i><i class="c7">1.360</i><i class="c12 q">51%</i><i class="c14">44880</i><i class="c15">6052</i><i class="c16">278.00%</i><i class="c18">168.00%</i><i class="c19">549.80%</i><i class="c20">135.96%</i><i class="c21">9.00%</i><i class="c22">33.00%</i><i class="c23">83.00%</i><i class="c24">149122.5549</i></div>
<div class="r" style="top:954px"><i class="c2">60</i><i class="c5">850</i><i class="c6">2300</i><i class="c7">1.360</i><i class="c12 q">50%</i><i class="c14">44880</i><i class="c15">6052</i><i class="c16">278.00%</i><i class="c18">168.00%</i><i class="c19">548.80%</i><i class="c20">135.96%</i><i class="c21">9.00%</i><i class="c22">33.00%</i><i class="c23">83.00%</i><i class="c24">148893.065</i></div>
<div class="r" style="top:972px"><i class="c2">59</i><i class="c5">850</i><i class="c6">2300</i><i class="c7">1.360</i><i class="c12 q">49%</i><i class="c14">44880</i><i class="c15">6052</i><i class="c16">278.00%</i><i class="c18">168.00%</i><i class="c19">547.80%</i><i class="c20">135.96%</i><i class="c21">9.00%</i><i class="c22">33.00%</i><i class="c23">83.00%</i><i class="c24">148663.5751</i></div>
<div class="r" style="top:990px"><i class="c2">58</i><i class="c5">850</i><i class="c6">2300</i><i class="c7">1.360</i><i class="c12 q">48%</i><i class="c14">44880</i><i class="c15">6052</i><i class="c16">278.00%</i><i class="c18">168.00%</i><i class="c19">546.80%</i><i class="c20">135.96%</i><i class="c21">26.00%</i><i class="c22">33.00%</i><i class="c23">83.00%</i><i class="c24">171584.3553</i></div>
<div class="r" style="top:1008px"><i class="c2">57</i><i class="c5">850</i><i class="c6">2300</i><i class="c7">1.360</i><i class="c12 q">47%</i><i class="c14">44880</i><i class="c15">6052</i><i class="c16">278.00%</i><i class="c18">168.00%</i><i class="c19">545.80%</i><i class="c20">135.96%</i><i class="c21">26.00%</i><i class="c22">33.00%</i><i class="c23">83.00%</i><i class="c24">171319.0734</i></div>
<div class="r" style="top:1026px"><i class="c2">56</i><i class="c5">850</i><i class="c6">2300</i><i class="c7">1.360</i><i class="c8 p">8%</i><i class="c12 q">46%</i><i class="c14">44880</i><i class="c15">6052</i><i class="c16">278.00%</i><i class="c18">168.00%</i><i class="c19">544.80%</i><i class="c20">135.96%</i><i class="c21">34.00%</i><i class="c22">33.00%</i><i class="c23">83.00%</i><i class="c24">181914.3496</i></div>
<div class="r" style="top:1044px"><i class="c2">55</i><i class="c5">850</i><i class="c6">2300</i><i class="c7">1.360</i><i class="c8 p">24%</i><i class="c12 q">45%</i><i class="c14">44880</i><i class="c15">6052</i><i class="c16">278.00%</i><i class="c18">168.00%</i><i class="c19">543.80%</i><i class="c20">135.96%</i><i class="c21">50.00%</i><i class="c22">33.00%</i><i class="c23">83.00%</i><i class="c24">203319.6542</i></div>
<div class="r" style="top:1062px"><i class="c2">54</i><i class="c5">850</i><i class="c6">2300</i><i class="c7">1.360</i><i class="c8 p">24%</i><i class="c12 q">44%</i><i class="c14">44880</i><i class="c15">6052</i><i class="c16">278.00%</i><i class="c18">168.00%</i><i class="c19">542.80%</i><i class="c20">135.96%</i><i class="c21">50.00%</i><i class="c22">33.00%</i><i class="c23">83.00%</i><i class="c24">203003.8424</i></div>
<div class="r" style="top:1080px"><i class="c2">53</i><i class="c5">850</i><i class="c6">2300</i><i class="c7">1.360</i><i class="c8 p">24%</i><i class="c12 q">43%</i><i class="c14">44880</i><i class="c15">6052</i><i class="c16">278.00%</i><i class="c18">168.00%</i><i class="c19">541.80%</i><i class="c20">135.96%</i><i class="c21">50.00%</i><i class="c22">33.00%</i><i class="c23">83.00%</i><i class="c24">202688.0305</i></div>
<div class="r" style="top:1098px"><i class="c2">52</i><i class="c5">850</i><i class="c6">2300</i><i class="c7">1.360</i><i class="c8 p">24%</i><i class="c12 q">42%</i><i class="c14">51280</i><i class="c15">6052</i><i class="c16">278.00%</i><i class="c18">188.00%</i><i class="c19">540.80%</i><i class="c20">135.96%</i><i class="c21">33.00%</i><i class="c22">33.00%</i><i class="c23">83.00%</i><i class="c24">219902.883</i></div>
<div class="r" style="top:1116px"><i class="c2">51</i><i class="c5">850</i><i class="c6">2300</i><i class="c7">1.360</i><i class="c8 p">24%</i><i class="c12 q">41%</i><i class="c14">51280</i><i class="c15">6052</i><i class="c16">278.00%</i><i class="c18">188.00%</i><i class="c19">539.80%</i><i class="c20">135.96%</i><i class="c21">33.00%</i><i class="c22">33.00%</i><i class="c23">83.00%</i><i class="c24">219559.7137</i></div>
<div class="r" style="top:1134px"><i class="c2">50</i><i class="c5">850</i><i class="c6">2300</i><i class="c7">1.360</i><i class="c8 p">6%</i><i class="c12 q">40%</i><i class="c14">51280</i><i class="c15">6052</i><i class="c16">318.00%</i><i class="c18">188.00%</i><i class="c19">538.80%</i><i class="c20">135.96%</i><i class="c21">15.00%</i><i class="c22">33.00%</i><i class="c23">83.00%</i><i class="c24">209606.1441</i></div>
<div class="r" style="top:1152px"><i class="c2">49</i><i class="c5">850</i><i class="c6">2300</i><i class="c7">1.360</i><i class="c12 q">39%</i><i class="c14">51280</i><i class="c15">6052</i><i class="c16">318.00%</i><i class="c18">188.00%</i><i class="c19">537.80%</i><i class="c20">135.96%</i><i class="c21">9.00%</i><i class="c22">33.00%</i><i class="c23">83.00%</i><i class="c24">198359.1661</i></div>
<div class="r" style="top:1170px"><i class="c2">48</i><i class="c5">850</i><i class="c6">2300</i><i class="c7">1.360</i><i class="c12 q">38%</i><i class="c14">51280</i><i class="c15">6052</i><i class="c16">318.00%</i><i class="c18">188.00%</i><i class="c19">536.80%</i><i class="c20">135.96%</i><i class="c21">26.00%</i><i class="c22">33.00%</i><i class="c23">83.00%</i><i class="c24">228936.4061</i></div>
<div class="r" style="top:1188px"><i class="c2">47</i><i class="c5">850</i><i class="c6">2300</i><i class="c7">1.360</i><i class="c12 q">37%</i><i class="c14">51280</i><i class="c15">6052</i><i class="c16">318.00%</i><i class="c18">188.00%</i><i class="c19">535.80%</i><i class="c20">135.96%</i><i class="c21">26.00%</i><i class="c22">33.00%</i><i class="c23">83.00%</i><i class="c24">228576.8954</i></div>
<div class="r" style="top:1206px"><i class="c2">46</i><i class="c5">850</i><i class="c6">2300</i><i class="c7">1.360</i><i class="c12 q">36%</i><i class="c14">51280</i><i class="c15">6052</i><i class="c16">318.00%</i><i class="c18">188.00%</i><i class="c19">534.80%</i><i class="c20">135.96%</i><i class="c21">26.00%</i><i class="c22">33.00%</i><i class="c23">83.00%</i><i class="c24">228217.3847</i><i class="c26 z">65秒</i><i class="w">13492471.51</i></div>
</body></html>
